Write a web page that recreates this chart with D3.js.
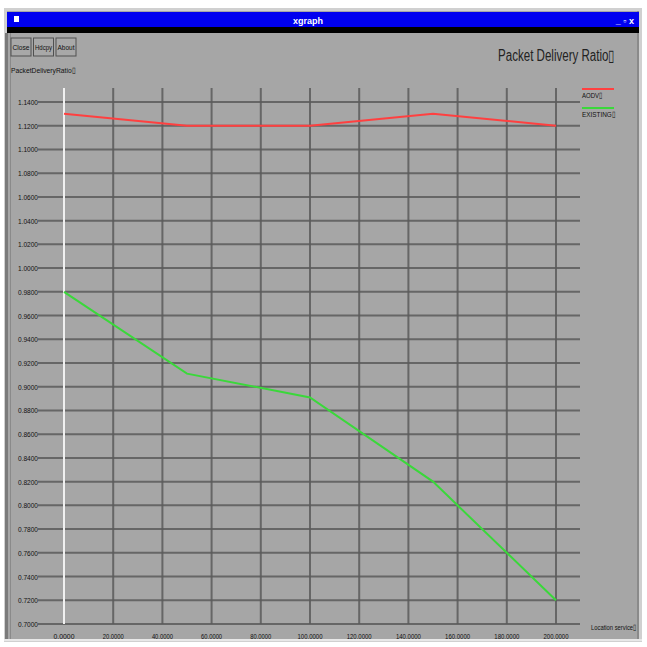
<!DOCTYPE html>
<html><head><meta charset="utf-8">
<script src="https://cdn.jsdelivr.net/npm/d3@7"></script>
<style>
html,body{margin:0;padding:0;background:#fff;}
svg{display:block;}
text{font-family:"Liberation Sans Narrow","Liberation Sans",Arial,sans-serif;}
</style></head>
<body>
<svg id="c" width="647" height="647"></svg>
<script>
// ---- data ----
const xValues = [0, 50, 100, 150, 200];
const seriesNames = ["AODV\u25AF", "EXISTING\u25AF"];
const seriesColors = ["#ff4040", "#3ad83a"];
const aodvValues = [1.13, 1.12, 1.12, 1.13, 1.12];
const existingValues = [0.98, 0.911, 0.891, 0.82, 0.72];
const xTicks = [0, 20, 40, 60, 80, 100, 120, 140, 160, 180, 200];
const yTicks = [0.70,0.72,0.74,0.76,0.78,0.80,0.82,0.84,0.86,0.88,0.90,0.92,0.94,0.96,0.98,1.00,1.02,1.04,1.06,1.08,1.10,1.12,1.14];
const chartTitle = "Packet Delivery Ratio\u25AF";
const yAxisTitle = "PacketDeliveryRatio\u25AF";
const xAxisTitle = "Location service\u25AF";
const buttons = ["Close", "Hdcpy", "About"];

const svg = d3.select("#c");

// window frame
svg.append("rect").attr("x",4).attr("y",8).attr("width",638).attr("height",634).attr("fill","#d0d0d0");
svg.append("rect").attr("x",7).attr("y",11).attr("width",632).attr("height",628).attr("fill","#a6a6a6");
svg.append("rect").attr("x",5).attr("y",33).attr("width",3).attr("height",606).attr("fill","#7a7a7a");
svg.append("rect").attr("x",10).attr("y",33).attr("width",1).attr("height",606).attr("fill","#8a8a8a");
svg.append("rect").attr("x",637).attr("y",11).attr("width",2).attr("height",628).attr("fill","#8a8a8a");
svg.append("rect").attr("x",4).attr("y",639).attr("width",638).attr("height",2).attr("fill","#e8e8e8");
// title bar
svg.append("rect").attr("x",7).attr("y",12).attr("width",632).attr("height",15).attr("fill","#0000f0");
svg.append("rect").attr("x",7).attr("y",27).attr("width",632).attr("height",6).attr("fill","#000");
svg.append("rect").attr("x",14).attr("y",16).attr("width",5).attr("height",6).attr("fill","#fff");
svg.append("text").attr("x",308).attr("y",24).attr("text-anchor","middle").attr("fill","#fff")
  .attr("font-size",9).attr("font-weight","bold").text("xgraph");
svg.append("text").attr("x",634).attr("y",24).attr("text-anchor","end").attr("fill","#fff")
  .attr("font-size",9).attr("font-weight","bold").text("_ \u25AB x");

// buttons
buttons.forEach((b,i)=>{
  const bx = 11 + i*22.5;
  svg.append("rect").attr("x",bx).attr("y",38).attr("width",20).attr("height",18)
    .attr("fill","#a8a8a8").attr("stroke","#505050").attr("stroke-width",1);
  svg.append("text").attr("x",bx+10).attr("y",50).attr("text-anchor","middle")
    .attr("font-size",7).attr("fill","#111").attr("textLength",17).attr("lengthAdjust","spacingAndGlyphs").text(b);
});
svg.append("text").attr("x",11).attr("y",73).attr("font-size",8).attr("fill","#111")
  .attr("textLength",64).attr("lengthAdjust","spacingAndGlyphs").text(yAxisTitle);
svg.append("text").attr("x",615).attr("y",61).attr("text-anchor","end").attr("font-size",16).attr("fill","#222")
  .attr("textLength",117).attr("lengthAdjust","spacingAndGlyphs").text(chartTitle);

// scales
const x = d3.scaleLinear().domain([0,200]).range([64,556]);
const y = d3.scaleLinear().domain([0.70,1.14]).range([624,102]);
const gridLeft = 38, gridRight = 580, gridTop = 88, gridBottom = 624;

// horizontal grid
svg.append("g").selectAll("line").data(yTicks).join("line")
  .attr("x1",gridLeft).attr("x2",gridRight).attr("y1",d=>y(d)).attr("y2",d=>y(d))
  .attr("stroke","#5a5a5a").attr("stroke-width",2).attr("stroke-opacity",0.85);
// vertical grid
svg.append("g").selectAll("line").data(xTicks).join("line")
  .attr("x1",d=>x(d)).attr("x2",d=>x(d)).attr("y1",gridTop).attr("y2",gridBottom)
  .attr("stroke",d=>d===0?"#f0f0f0":"#5a5a5a").attr("stroke-width",2).attr("stroke-opacity",d=>d===0?1:0.85);

// y tick labels
svg.append("g").selectAll("text").data(yTicks).join("text")
  .attr("x",38).attr("y",d=>y(d)+3).attr("text-anchor","end").attr("font-size",8).attr("fill","#111")
  .attr("textLength",20).attr("lengthAdjust","spacingAndGlyphs")
  .text(d=>d3.format(".4f")(d));
// x tick labels
svg.append("g").selectAll("text").data(xTicks).join("text")
  .attr("x",d=>x(d)).attr("y",639).attr("text-anchor","middle").attr("font-size",8).attr("fill","#111")
  .attr("textLength",d=>d>=100?25:21).attr("lengthAdjust","spacingAndGlyphs")
  .text(d=>d3.format(".4f")(d));
svg.append("text").attr("x",591).attr("y",630).attr("font-size",8).attr("fill","#111")
  .attr("textLength",45).attr("lengthAdjust","spacingAndGlyphs").text(xAxisTitle);

// series
const line = d3.line().x(d=>x(d[0])).y(d=>y(d[1]));
[aodvValues, existingValues].forEach((vals,i)=>{
  svg.append("path").datum(xValues.map((xv,j)=>[xv,vals[j]]))
    .attr("d",line).attr("fill","none").attr("stroke",seriesColors[i]).attr("stroke-width",2);
});

// legend
seriesNames.forEach((n,i)=>{
  const ly = 89 + i*19;
  svg.append("line").attr("x1",582).attr("x2",614).attr("y1",ly).attr("y2",ly)
    .attr("stroke",seriesColors[i]).attr("stroke-width",2);
  svg.append("text").attr("x",582).attr("y",ly+9).attr("font-size",8).attr("fill","#111")
    .attr("textLength",i===0?20:33).attr("lengthAdjust","spacingAndGlyphs").text(n);
});
</script>
</body></html>
